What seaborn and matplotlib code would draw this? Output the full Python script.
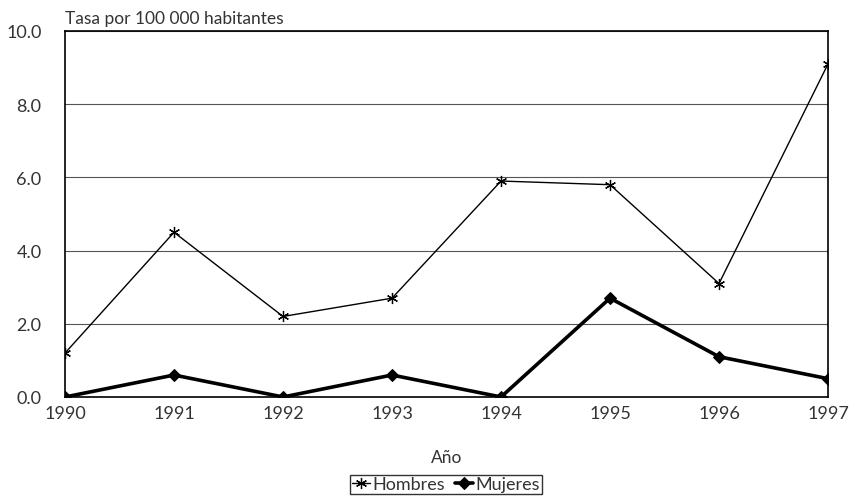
import matplotlib
matplotlib.use("Agg")
import matplotlib.pyplot as plt
import seaborn as sns

years = [1990, 1991, 1992, 1993, 1994, 1995, 1996, 1997]
hombres = [1.2, 4.5, 2.2, 2.7, 5.9, 5.8, 3.1, 9.1]
mujeres = [0.0, 0.6, 0.0, 0.6, 0.0, 2.7, 1.1, 0.5]
y_ticks = [0.0, 2.0, 4.0, 6.0, 8.0, 10.0]

sns.set_style("white")
plt.rcParams["font.family"] = ["Lato", "DejaVu Sans"]
TXT = "#333333"

fig = plt.figure(figsize=(8.51, 5.02), dpi=100)
ax = fig.add_axes([0.0764, 0.2072, 0.8966, 0.7291])

# Hombres: thin line, asterisk markers
sns.lineplot(x=years, y=hombres, color="black", linewidth=1.0,
             marker=(6, 2, 0), markersize=8, markeredgecolor="black",
             markeredgewidth=0.9, ax=ax, label="Hombres", legend=False)
# Mujeres: thick line, diamond markers
sns.lineplot(x=years, y=mujeres, color="black", linewidth=2.6,
             marker="D", markersize=6, markeredgecolor="black",
             ax=ax, label="Mujeres", legend=False)

ax.set_xlim(1990, 1997)
ax.set_ylim(0, 10)
ax.set_yticks(y_ticks)
ax.set_yticklabels([f"{v:.1f}" for v in y_ticks])
ax.set_xticks(years)
ax.yaxis.grid(True, color="#555555", linewidth=0.8)
ax.set_axisbelow(True)
for s in ax.spines.values():
    s.set_visible(True)
    s.set_color("black")
    s.set_linewidth(1.2)
ax.tick_params(axis="both", length=0, labelsize=13, colors=TXT)
ax.tick_params(axis="x", pad=6)
ax.tick_params(axis="y", pad=17)

ax.set_xlabel("Año", fontsize=12.5, color=TXT, labelpad=20)
ax.set_ylabel("")
fig.text(0.0764, 0.947, "Tasa por 100 000 habitantes", fontsize=12.5,
         color=TXT, ha="left", va="bottom")

handles, labels = ax.get_legend_handles_labels()
leg = fig.legend(handles, labels, loc="center",
                 bbox_to_anchor=(0.524, 0.033), ncol=2, frameon=True,
                 fancybox=False, edgecolor="black", fontsize=13,
                 handlelength=1.0, handletextpad=0.1, columnspacing=0.6,
                 borderpad=0.1, borderaxespad=0)
leg.get_frame().set_linewidth(1.0)
for t in leg.get_texts():
    t.set_color(TXT)

fig.savefig("out.png", dpi=100)
